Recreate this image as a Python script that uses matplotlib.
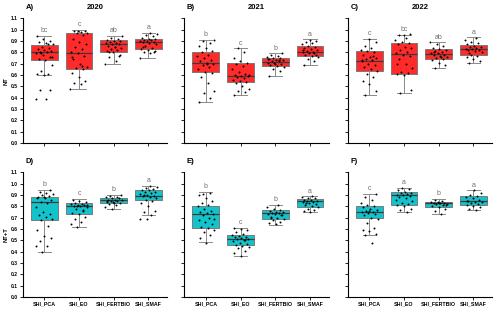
import numpy as np
import matplotlib
matplotlib.use("Agg")
import matplotlib.pyplot as plt

plt.rcParams['font.family'] = ['Liberation Sans', 'DejaVu Sans']

# indices e anos
indices = ["SHI_PCA", "SHI_EO", "SHI_FERTBIO", "SHI_SMAF"]
years = ["2020", "2021", "2022"]
panel_tags = ["A)", "B)", "C)", "D)", "E)", "F)"]
row_labels = ["NT", "NT+T"]

# box stats: (whislo, q1, med, q3, whishi)
nt_2020_box = [(0.604, 0.73, 0.80, 0.868, 0.944), (0.48, 0.65, 0.79, 0.968, 0.997),
               (0.698, 0.80, 0.871, 0.909, 0.944), (0.748, 0.833, 0.89, 0.92, 0.974)]
nt_2021_box = [(0.364, 0.625, 0.704, 0.80, 0.909), (0.422, 0.537, 0.592, 0.704, 0.836),
               (0.589, 0.68, 0.718, 0.748, 0.792), (0.692, 0.771, 0.80, 0.856, 0.915)]
nt_2022_box = [(0.422, 0.636, 0.727, 0.812, 0.92), (0.443, 0.613, 0.786, 0.88, 0.956),
               (0.663, 0.745, 0.786, 0.833, 0.889), (0.71, 0.777, 0.827, 0.862, 0.933)]
ntt_2020_box = [(0.396, 0.675, 0.837, 0.885, 0.947), (0.618, 0.73, 0.80, 0.828, 0.864),
                (0.78, 0.825, 0.86, 0.873, 0.899), (0.722, 0.852, 0.89, 0.944, 0.982)]
ntt_2021_box = [(0.482, 0.607, 0.73, 0.804, 0.925), (0.364, 0.462, 0.515, 0.55, 0.607),
                (0.639, 0.692, 0.74, 0.766, 0.814), (0.746, 0.793, 0.843, 0.864, 0.888)]
ntt_2022_box = [(0.55, 0.695, 0.754, 0.799, 0.908), (0.754, 0.81, 0.896, 0.926, 0.961),
                (0.728, 0.79, 0.828, 0.837, 0.864), (0.769, 0.81, 0.843, 0.888, 0.941)]

# pontos individuais
nt_2020_pts = [
    [0.387, 0.387, 0.47, 0.47, 0.604, 0.61, 0.61, 0.64, 0.69, 0.73, 0.74, 0.76, 0.78, 0.79, 0.80,
     0.80, 0.81, 0.82, 0.83, 0.84, 0.85, 0.87, 0.88, 0.89, 0.90, 0.92, 0.94, 0.87, 0.79, 0.76],
    [0.48, 0.52, 0.53, 0.55, 0.58, 0.62, 0.65, 0.66, 0.67, 0.70, 0.74, 0.77, 0.79, 0.80, 0.83,
     0.85, 0.87, 0.89, 0.92, 0.95, 0.97, 0.97, 0.98, 0.99, 0.99, 0.99, 0.76, 0.68],
    [0.70, 0.72, 0.76, 0.78, 0.80, 0.81, 0.82, 0.83, 0.84, 0.85, 0.86, 0.87, 0.87, 0.88, 0.88,
     0.89, 0.90, 0.90, 0.91, 0.92, 0.93, 0.94, 0.85, 0.80, 0.77],
    [0.75, 0.79, 0.80, 0.81, 0.82, 0.83, 0.84, 0.86, 0.87, 0.88, 0.89, 0.89, 0.90, 0.90, 0.91,
     0.91, 0.92, 0.92, 0.93, 0.94, 0.95, 0.96, 0.97, 0.85, 0.80]]
nt_2021_pts = [
    [0.36, 0.40, 0.44, 0.46, 0.53, 0.58, 0.62, 0.63, 0.65, 0.67, 0.69, 0.70, 0.70, 0.72, 0.73,
     0.75, 0.77, 0.78, 0.80, 0.81, 0.84, 0.86, 0.88, 0.90, 0.91, 0.71],
    [0.42, 0.45, 0.46, 0.48, 0.50, 0.53, 0.54, 0.55, 0.56, 0.57, 0.58, 0.59, 0.59, 0.60, 0.61,
     0.63, 0.65, 0.68, 0.70, 0.71, 0.72, 0.75, 0.80, 0.84, 0.60],
    [0.59, 0.64, 0.65, 0.67, 0.68, 0.69, 0.70, 0.71, 0.71, 0.72, 0.72, 0.73, 0.73, 0.74, 0.75,
     0.75, 0.76, 0.77, 0.78, 0.79, 0.70, 0.74, 0.73],
    [0.69, 0.72, 0.74, 0.76, 0.77, 0.78, 0.78, 0.79, 0.80, 0.80, 0.81, 0.82, 0.83, 0.84, 0.85,
     0.86, 0.87, 0.88, 0.89, 0.90, 0.91, 0.82, 0.79]]
nt_2022_pts = [
    [0.42, 0.46, 0.52, 0.55, 0.58, 0.61, 0.64, 0.65, 0.67, 0.69, 0.70, 0.72, 0.73, 0.74, 0.75,
     0.76, 0.78, 0.80, 0.81, 0.82, 0.84, 0.86, 0.89, 0.92, 0.73, 0.77],
    [0.44, 0.47, 0.60, 0.61, 0.62, 0.63, 0.66, 0.70, 0.74, 0.77, 0.78, 0.79, 0.80, 0.82, 0.84,
     0.85, 0.87, 0.88, 0.89, 0.91, 0.93, 0.95, 0.96, 0.95, 0.70],
    [0.66, 0.69, 0.71, 0.73, 0.74, 0.75, 0.76, 0.77, 0.78, 0.78, 0.79, 0.79, 0.80, 0.81, 0.82,
     0.83, 0.84, 0.86, 0.87, 0.89, 0.76, 0.80],
    [0.71, 0.72, 0.74, 0.76, 0.77, 0.78, 0.80, 0.81, 0.82, 0.82, 0.83, 0.83, 0.84, 0.85, 0.85,
     0.86, 0.87, 0.88, 0.89, 0.91, 0.93, 0.79]]
ntt_2020_pts = [
    [0.40, 0.45, 0.45, 0.49, 0.52, 0.54, 0.59, 0.63, 0.68, 0.69, 0.71, 0.72, 0.73, 0.75, 0.79,
     0.83, 0.84, 0.86, 0.87, 0.88, 0.89, 0.90, 0.91, 0.92, 0.93, 0.94, 0.88, 0.87],
    [0.62, 0.64, 0.66, 0.69, 0.71, 0.73, 0.74, 0.76, 0.78, 0.79, 0.80, 0.80, 0.81, 0.81, 0.82,
     0.82, 0.83, 0.84, 0.85, 0.86, 0.77, 0.80, 0.81],
    [0.78, 0.79, 0.81, 0.82, 0.83, 0.84, 0.84, 0.85, 0.85, 0.86, 0.86, 0.86, 0.87, 0.87, 0.88,
     0.88, 0.89, 0.90, 0.83, 0.85],
    [0.69, 0.69, 0.72, 0.75, 0.76, 0.80, 0.83, 0.85, 0.86, 0.87, 0.88, 0.89, 0.89, 0.90, 0.91,
     0.92, 0.93, 0.93, 0.94, 0.94, 0.95, 0.96, 0.97, 0.98, 0.90]]
ntt_2021_pts = [
    [0.48, 0.52, 0.55, 0.57, 0.59, 0.61, 0.62, 0.64, 0.66, 0.68, 0.70, 0.72, 0.73, 0.74, 0.75,
     0.76, 0.78, 0.80, 0.81, 0.83, 0.85, 0.87, 0.90, 0.92, 0.91, 0.69],
    [0.36, 0.39, 0.41, 0.43, 0.44, 0.45, 0.46, 0.47, 0.48, 0.49, 0.50, 0.51, 0.51, 0.52, 0.53,
     0.53, 0.54, 0.55, 0.56, 0.57, 0.59, 0.60, 0.61, 0.50],
    [0.64, 0.65, 0.66, 0.68, 0.69, 0.70, 0.71, 0.72, 0.73, 0.73, 0.74, 0.74, 0.75, 0.75, 0.76,
     0.77, 0.78, 0.79, 0.81, 0.70, 0.72],
    [0.75, 0.76, 0.77, 0.78, 0.79, 0.80, 0.81, 0.82, 0.83, 0.84, 0.84, 0.85, 0.85, 0.86, 0.86,
     0.87, 0.87, 0.88, 0.89, 0.83]]
ntt_2022_pts = [
    [0.48, 0.55, 0.56, 0.58, 0.59, 0.61, 0.65, 0.69, 0.70, 0.72, 0.73, 0.74, 0.75, 0.75, 0.76,
     0.77, 0.78, 0.79, 0.80, 0.81, 0.83, 0.86, 0.88, 0.91, 0.76],
    [0.75, 0.77, 0.78, 0.80, 0.81, 0.82, 0.83, 0.85, 0.87, 0.88, 0.89, 0.90, 0.90, 0.91, 0.92,
     0.92, 0.93, 0.94, 0.95, 0.96, 0.86],
    [0.73, 0.76, 0.78, 0.79, 0.80, 0.81, 0.82, 0.82, 0.83, 0.83, 0.83, 0.84, 0.84, 0.85, 0.86,
     0.81, 0.83],
    [0.77, 0.78, 0.79, 0.80, 0.81, 0.82, 0.83, 0.84, 0.84, 0.85, 0.86, 0.87, 0.88, 0.89, 0.90,
     0.92, 0.94, 0.85]]

# letras de significancia
nt_2020_let = ["bc", "c", "ab", "a"]
nt_2021_let = ["b", "c", "b", "a"]
nt_2022_let = ["c", "bc", "ab", "a"]
ntt_2020_let = ["b", "c", "b", "a"]
ntt_2021_let = ["b", "c", "b", "a"]
ntt_2022_let = ["c", "a", "b", "a"]

boxes = [nt_2020_box, nt_2021_box, nt_2022_box, ntt_2020_box, ntt_2021_box, ntt_2022_box]
points = [nt_2020_pts, nt_2021_pts, nt_2022_pts, ntt_2020_pts, ntt_2021_pts, ntt_2022_pts]
letters = [nt_2020_let, nt_2021_let, nt_2022_let, ntt_2020_let, ntt_2021_let, ntt_2022_let]

RED = "#ff2a2a"
CYAN = "#12c3cb"

fig = plt.figure(figsize=(5.0, 3.11), dpi=100)

lefts = [0.045, 0.368, 0.695]
width = 0.29
bottoms = [0.540, 0.045]
height = 0.401

for k in range(6):
    row, col = divmod(k, 3)
    ax = fig.add_axes([lefts[col], bottoms[row], width, height])
    color = RED if row == 0 else CYAN

    stats = []
    for (lo, q1, med, q3, hi) in boxes[k]:
        stats.append(dict(whislo=lo, q1=q1, med=med, q3=q3, whishi=hi, fliers=[]))
    ax.bxp(stats, positions=[1, 2, 3, 4], widths=0.77, patch_artist=True,
           showfliers=False,
           boxprops=dict(facecolor=color, edgecolor="#7a7a7a", linewidth=0.7),
           medianprops=dict(color="#3a3a3a", linewidth=0.9),
           whiskerprops=dict(color="#8a8a8a", linewidth=0.7),
           capprops=dict(color="#8a8a8a", linewidth=0.7),
           capwidths=0.38)

    # pontos com deslocamento fixo
    for i, vals in enumerate(points[k]):
        n = len(vals)
        off = ((np.arange(n) * 0.618 + 0.13 * k) % 1.0 - 0.5) * 0.5
        ax.plot(i + 1 + off, vals, "o", color="black", markersize=1.4,
                markeredgewidth=0, zorder=4)
        ax.text(i + 1, boxes[k][i][4] + 0.015, letters[k][i], ha="center",
                va="bottom", fontsize=5, color="#707070")

    ax.set_xlim(0.37, 4.55)
    ax.set_ylim(0, 1.1)
    ax.set_yticks(np.arange(0, 1.11, 0.1))
    ax.spines["top"].set_visible(False)
    ax.spines["right"].set_visible(False)
    ax.spines["left"].set_linewidth(0.8)
    ax.spines["bottom"].set_linewidth(0.8)
    ax.tick_params(length=2, width=0.6, labelsize=3.6, pad=1.2)

    if col == 0:
        ax.set_yticklabels([f"{v:.1f}" for v in np.arange(0, 1.11, 0.1)],
                           fontweight="bold")
        ax.set_ylabel(row_labels[row], fontsize=4.3, fontweight="bold", labelpad=1.5)
    else:
        ax.set_yticklabels([])

    ax.set_xticks([1, 2, 3, 4])
    if row == 1:
        ax.set_xticklabels(indices, fontweight="bold", fontsize=3.8)
    else:
        ax.set_xticklabels([])

    ax.text(0.02, 1.06, panel_tags[k], transform=ax.transAxes, fontsize=5.5,
            fontweight="bold", va="bottom")
    if row == 0:
        ax.text(0.5, 1.06, years[col], transform=ax.transAxes, fontsize=5.5,
                fontweight="bold", ha="center", va="bottom")

fig.savefig("out.png", dpi=100)
